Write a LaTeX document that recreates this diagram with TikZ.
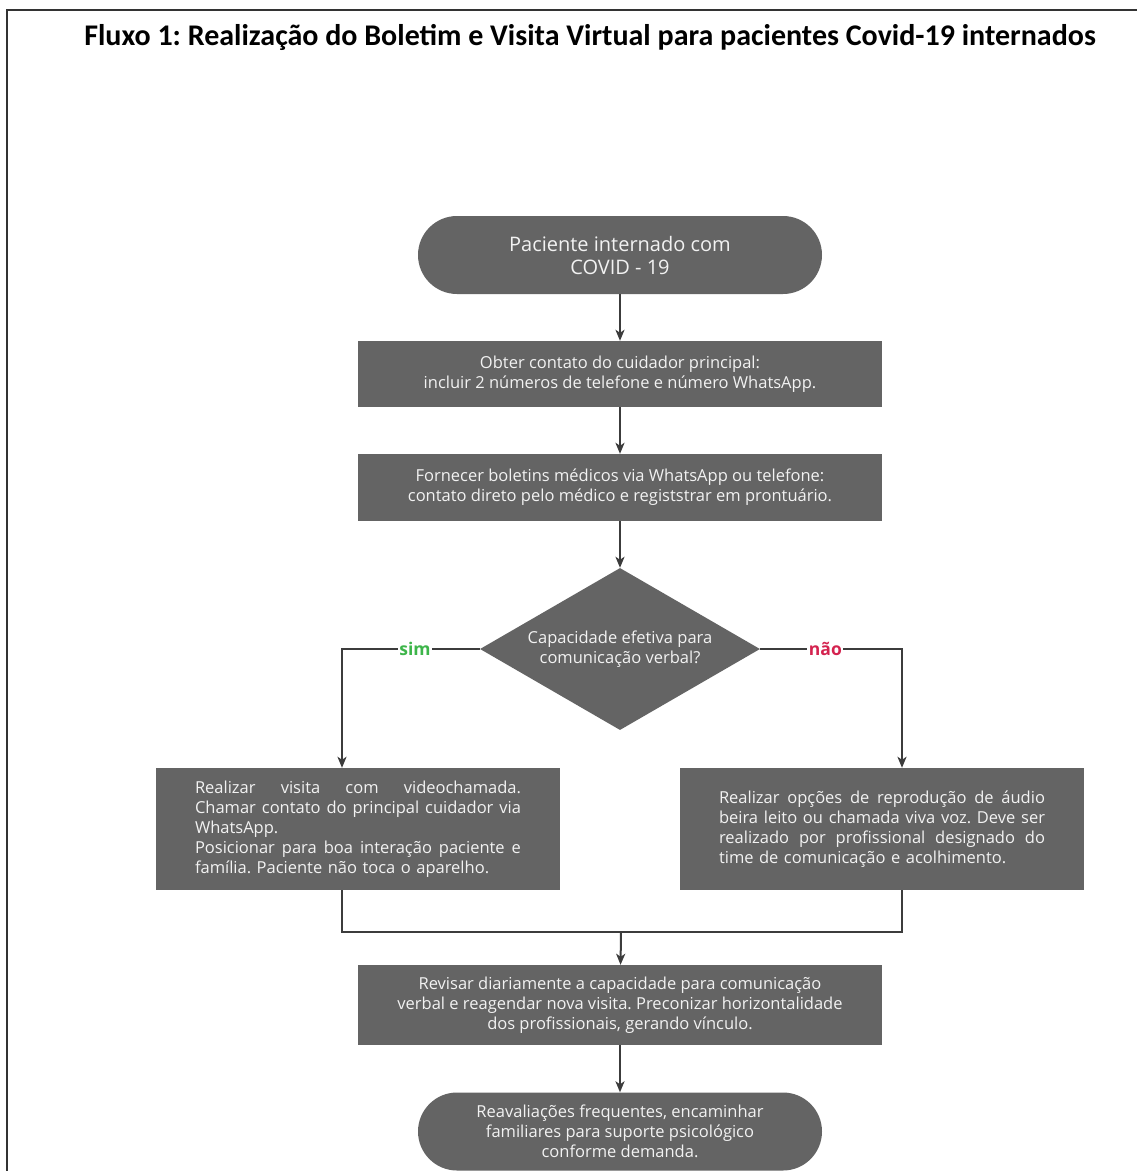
\documentclass[tikz,border=0pt]{standalone}
\usepackage{fontspec}
\setmainfont{Open Sans}
\newfontfamily\titlefont{Carlito}
\usetikzlibrary{shapes.geometric,arrows.meta}
\definecolor{boxgray}{HTML}{646464}
\definecolor{linegray}{HTML}{3C3C3C}
\definecolor{framegray}{HTML}{333333}
\definecolor{simgreen}{HTML}{3DB54A}
\definecolor{naored}{HTML}{D4234F}
\definecolor{txt}{HTML}{F2F2F2}
\newcommand\js{\hskip\fontdimen2\font plus 1fill minus \fontdimen4\font\relax}
\newcommand\jline[1]{\hbox to 326pt{#1}}
\frenchspacing
\begin{document}
\begin{tikzpicture}[x=1pt,y=-1pt,
  mainfont/.style={font=\fontsize{16.5}{20}\selectfont\frenchspacing},
  flowbox/.style={fill=boxgray, text=txt, minimum width=524pt, inner sep=0pt,
    align=center, mainfont},
  sidebox/.style={fill=boxgray, text=txt, minimum width=404pt, minimum height=122pt,
    inner sep=0pt, text width=326pt, align=left, mainfont},
  terminal/.style={fill=boxgray, text=txt, minimum width=404pt, minimum height=78pt,
    rounded corners=39pt, inner sep=0pt, align=center},
  decision/.style={diamond, fill=boxgray, text=txt, minimum width=280pt, minimum height=162pt,
    aspect=1.73, inner sep=0pt, align=center, mainfont},
  arr/.style={draw=linegray, line width=2pt, -{Stealth[length=11pt,width=9pt,inset=3pt]}},
  conn/.style={draw=linegray, line width=2pt},
  lbl/.style={fill=white, inner sep=1.5pt, font=\fontsize{17.5}{20}\selectfont\bfseries}
]
\useasboundingbox (0,0) rectangle (1137,1171);
\fill[white] (0,0) rectangle (1137,1171);
\draw[framegray, line width=1.5pt] (7,1171) -- (7,10) -- (1137,10);

\node[font=\titlefont\bfseries\fontsize{30}{34}\selectfont] (title) at (590,37.5)
  {Fluxo 1: Realização do Boletim e Visita Virtual para pacientes Covid-19 internados};

\node[terminal, font=\fontsize{20}{23}\selectfont] (start) at (620,255)
  {Paciente internado com\\COVID - 19};
\node[flowbox, minimum height=66pt] (b2) at (620,374)
  {Obter contato do cuidador principal:\\incluir 2 números de telefone e número WhatsApp.};
\node[flowbox, minimum height=67pt] (b3) at (620,487.5)
  {Fornecer boletins médicos via WhatsApp ou telefone:\\contato direto pelo médico e registstrar em prontuário.};
\node[decision] (dec) at (620,649)
  {Capacidade efetiva para\\comunicação verbal?};
\node[sidebox] (left) at (358,829)
  {\jline{Realizar\js visita\js com\js videochamada.}
   \jline{Chamar\js contato\js do\js principal\js cuidador\js via}
   WhatsApp.\\
   \jline{Posicionar\js para\js boa\js interação\js paciente\js e}
   família. Paciente não toca o aparelho.};
\node[sidebox] (right) at (882,829)
  {\jline{Realizar\js opções\js de\js reprodução\js de\js áudio}
   \jline{beira\js leito\js ou\js chamada\js viva\js voz.\js Deve\js ser}
   \jline{realizado\js por\js profissional\js designado\js do}
   time de comunicação e acolhimento.};
\node[flowbox, minimum height=80pt] (b6) at (620,1005)
  {Revisar diariamente a capacidade para comunicação\\verbal e reagendar nova visita. Preconizar horizontalidade\\dos profissionais, gerando vínculo.};
\node[terminal, mainfont] (end) at (620,1131.5)
  {Reavaliações frequentes, encaminhar\\familiares para suporte psicológico\\conforme demanda.};

\coordinate (m) at (621,932);

\draw[arr] (start) -- (b2);
\draw[arr] (b2) -- (b3);
\draw[arr] (b3) -- (dec);
\draw[arr] (dec.west) -| node[lbl, pos=0.235, text=simgreen] {sim} ([xshift=-16pt]left.north);
\draw[arr] (dec.east) -| node[lbl, pos=0.23, text=naored] {não} ([xshift=20pt]right.north);
\draw[conn] ([xshift=-16pt]left.south) |- (m) -| ([xshift=20pt]right.south);
\draw[arr] (m) -- (b6);
\draw[arr] (b6) -- (end);
\end{tikzpicture}
\end{document}
